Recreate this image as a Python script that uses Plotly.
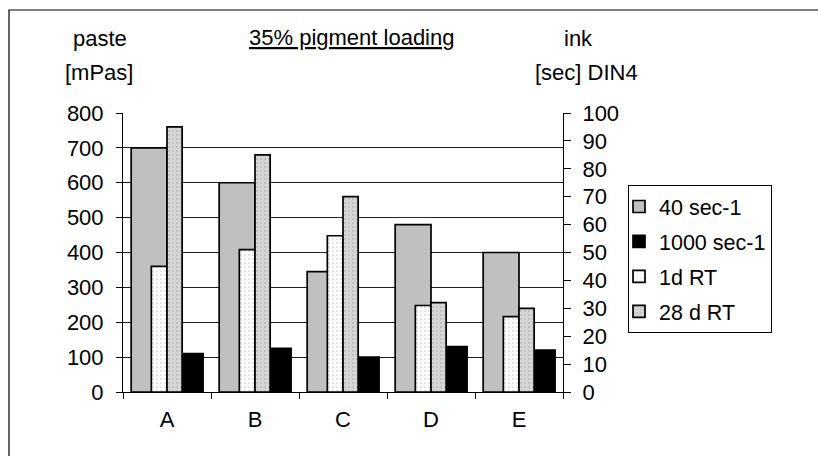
import plotly.graph_objects as go

# ---- data ----
categories = ["A", "B", "C", "D", "E"]
paste_40 = [700, 600, 345, 480, 400]      # mPas, 40 sec-1
paste_1000 = [110, 125, 100, 130, 120]    # mPas, 1000 sec-1
ink_1d = [45, 51, 56, 31, 27]             # sec DIN4, 1d RT
ink_28d = [95, 85, 70, 32, 30]            # sec DIN4, 28 d RT
y1_ticks = list(range(0, 801, 100))
y2_ticks = list(range(0, 101, 10))

FONT = "Liberation Sans, Arial, sans-serif"
FS = 22

W, H = 818, 456
L, R, T, B = 123, 563, 113, 392  # plot area pixels


def px(xp):
    return (xp - L) / (R - L)


def py(yp):
    return (B - yp) / (B - T)


line = dict(color="black", width=1.7)
fig = go.Figure()
fig.add_trace(go.Bar(x=categories, y=paste_40, name="40 sec-1",
                     marker=dict(color="#c0c0c0", line=line),
                     offset=-0.407, width=0.407, legendgroup="g1",
                     yaxis="y"))
fig.add_trace(go.Bar(x=categories, y=paste_1000, name="1000 sec-1",
                     marker=dict(color="black", line=line),
                     offset=0.0, width=0.41, legendgroup="g2",
                     yaxis="y"))
fig.add_trace(go.Bar(x=categories, y=ink_1d, name="1d RT",
                     marker=dict(color="white", line=line,
                                 pattern=dict(shape=".", size=4, solidity=0.15,
                                              fgcolor="#9a9a9a")),
                     offset=-0.178, width=0.178, legendgroup="g3",
                     yaxis="y2"))
fig.add_trace(go.Bar(x=categories, y=ink_28d, name="28 d RT",
                     marker=dict(color="#d6d6d6", line=line,
                                 pattern=dict(shape=".", size=4, solidity=0.2,
                                              fgcolor="#a0a0a0")),
                     offset=0.0, width=0.172, legendgroup="g4",
                     yaxis="y2"))

fig.update_layout(
    width=W, height=H,
    margin=dict(l=L, r=W - R, t=T, b=H - B),
    paper_bgcolor="white", plot_bgcolor="white",
    font=dict(family=FONT, size=FS, color="black"),
    barmode="overlay",
    showlegend=True,
    legend=dict(x=px(628), y=py(185), xanchor="left", yanchor="top",
                bordercolor="black", borderwidth=1, bgcolor="white",
                font=dict(family=FONT, size=21.5, color="black"),
                tracegroupgap=4, traceorder="grouped", indentation=-10),
    xaxis=dict(type="category", range=[-0.5, 4.5], showline=True,
               linecolor="black", linewidth=1, ticks="outside",
               tickson="boundaries", ticklen=6, tickcolor="black",
               showgrid=False, zeroline=False, ticklabelstandoff=8),
    yaxis=dict(range=[0, 800], tickvals=y1_ticks, showline=True,
               linecolor="black", linewidth=1, ticks="outside", ticklen=6,
               tickcolor="black", showgrid=True, gridcolor="#222222",
               gridwidth=1, zeroline=False, ticklabelstandoff=8),
    yaxis2=dict(range=[0, 100], tickvals=y2_ticks, overlaying="y",
                side="right", showline=True, linecolor="black", linewidth=1,
                ticks="outside", ticklen=7, tickcolor="black",
                showgrid=False, zeroline=False, ticklabelstandoff=7),
    yaxis3=dict(range=[0, 100], tickvals=y2_ticks, overlaying="y",
                side="right", showline=False, ticks="inside", ticklen=7,
                tickcolor="black", showticklabels=False, showgrid=False,
                zeroline=False),
)

ann = dict(xref="paper", yref="paper", showarrow=False,
           font=dict(family=FONT, size=FS, color="black"),
           xanchor="center", yanchor="middle")
fig.add_annotation(text="paste", x=px(100), y=py(38), **ann)
fig.add_annotation(text="[mPas]", x=px(99), y=py(72), **ann)
fig.add_annotation(text="<u>35% pigment loading</u>", x=px(351), y=py(37), **ann)
fig.add_annotation(text="ink", x=px(578), y=py(38), **ann)
fig.add_annotation(text="[sec] DIN4", x=px(586), y=py(72), **ann)

fig.add_shape(type="rect", xref="paper", yref="paper",
              x0=px(9), x1=px(830), y0=py(470), y1=py(10),
              line=dict(color="black", width=1.2), fillcolor="rgba(0,0,0,0)",
              layer="below")

fig.write_html("out.html")
